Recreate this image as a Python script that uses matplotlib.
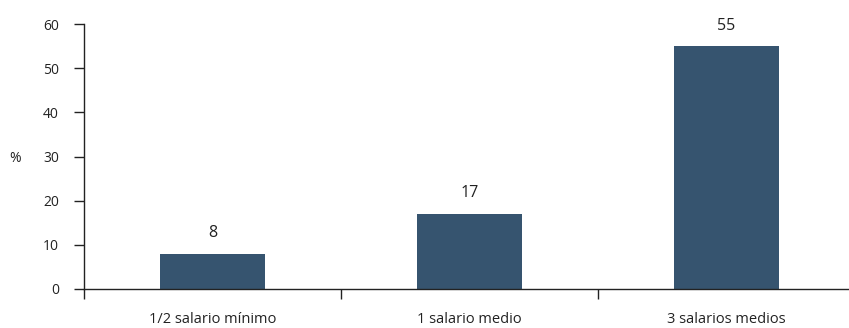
import matplotlib
matplotlib.use("Agg")
import matplotlib.pyplot as plt

categories = ["1/2 salario mínimo", "1 salario medio", "3 salarios medios"]
values = [8, 17, 55]
yticks = [0, 10, 20, 30, 40, 50, 60]

plt.rcParams['font.family'] = ['Open Sans', 'DejaVu Sans']

fig = plt.figure(figsize=(8.49, 3.28), dpi=100)
ax = fig.add_axes([84/849, 39/328, 771/849, 265/328])

x = list(range(len(categories)))
bars = ax.bar(x, values, width=0.41, color="#36546f", zorder=2)
for xi, v in zip(x, values):
    ax.annotate(str(v), (xi, v), xytext=(0, 9), textcoords="offset points",
                ha="center", va="bottom", fontsize=11.5, color="#222222")

ax.set_xlim(-0.5, 2.5)
ax.set_ylim(0, 60)
ax.set_yticks(yticks)
ax.set_yticklabels([str(t) for t in yticks], fontsize=10, color="#222222")
ax.set_xticks([-0.5, 0.5, 1.5, 2.5])
ax.set_xticklabels([])
ax.set_xticks(x, minor=True)
ax.set_xticklabels(categories, minor=True, fontsize=10.5, color="#222222")
ax.tick_params(axis="x", which="minor", length=0, pad=16.5)
ax.tick_params(axis="x", which="major", length=7, width=1, color="#222222", direction="out")
ax.tick_params(axis="y", length=7, width=1, color="#222222", direction="out", pad=11)

for s in ["top", "right"]:
    ax.spines[s].set_visible(False)
for s in ["left", "bottom"]:
    ax.spines[s].set_color("#222222")
    ax.spines[s].set_linewidth(1)

fig.text(15/849, 1 - 158/328, "%", fontsize=10, ha="center", va="center", color="#222222")

fig.savefig("out.png", dpi=100)
